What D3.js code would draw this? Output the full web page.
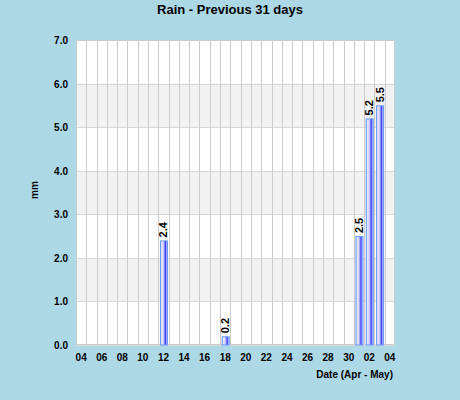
<!DOCTYPE html>
<html><head><meta charset="utf-8">
<script src="https://cdn.jsdelivr.net/npm/d3@7"></script>
<style>
html,body{margin:0;padding:0;background:#add8e6;}
svg{display:block;font-family:"Liberation Sans",Arial,sans-serif;}
</style></head>
<body>
<script>
const days = ["04","05","06","07","08","09","10","11","12","13","14","15","16","17","18","19","20","21","22","23","24","25","26","27","28","29","30","01","02","03","04b"];
const dayLabels = ["04","05","06","07","08","09","10","11","12","13","14","15","16","17","18","19","20","21","22","23","24","25","26","27","28","29","30","01","02","03","04"];
const rain = [0,0,0,0,0,0,0,0,2.4,0,0,0,0,0,0.2,0,0,0,0,0,0,0,0,0,0,0,0,2.5,5.2,5.5,0];
const yTicks = [0,1,2,3,4,5,6,7];
const title = "Rain - Previous 31 days";
const xTitle = "Date (Apr - May)";
const yTitle = "mm";

const W = 460, H = 400;
const m = {left:76, right:65, top:40, bottom:55};
const svg = d3.select("body").append("svg").attr("width",W).attr("height",H);
svg.append("rect").attr("width",W).attr("height",H).attr("fill","#add8e6");

const x = d3.scaleBand().domain(days).range([m.left, W-m.right]).paddingInner(0).paddingOuter(0);
const y = d3.scaleLinear().domain([0,7]).range([H-m.bottom, m.top]);

const defs = svg.append("defs");
const g = defs.append("linearGradient").attr("id","barg").attr("x1","0").attr("x2","1").attr("y1","0").attr("y2","0");
[[0,"#b8c8ff"],[0.2,"#e8eaff"],[0.45,"#c8c8ff"],[0.6,"#7777ff"],[0.72,"#4040ff"],[0.85,"#9aa0ff"],[1,"#d8dcff"]].forEach(([o,c])=>g.append("stop").attr("offset",o).attr("stop-color",c));

// plot background
svg.append("rect").attr("x",m.left).attr("y",m.top).attr("width",W-m.left-m.right).attr("height",H-m.top-m.bottom).attr("fill","#ffffff");
// alternating bands
svg.selectAll(".band").data(yTicks.slice(0,-1).filter(v=>v%2===1)).enter().append("rect")
  .attr("x",m.left).attr("width",W-m.left-m.right)
  .attr("y",d=>y(d+1)).attr("height",d=>y(d)-y(d+1)).attr("fill","#f2f2f2");
// horizontal grid
svg.selectAll(".hg").data(yTicks).enter().append("line")
  .attr("x1",m.left).attr("x2",W-m.right).attr("y1",d=>Math.round(y(d))+0.5).attr("y2",d=>Math.round(y(d))+0.5)
  .attr("stroke","#d8d8d8").attr("stroke-width",1);
// vertical grid
svg.selectAll(".vg").data(days).enter().append("line")
  .attr("x1",d=>Math.round(x(d))+0.5).attr("x2",d=>Math.round(x(d))+0.5)
  .attr("y1",m.top).attr("y2",H-m.bottom).attr("stroke","#cccccc");
svg.append("rect").attr("x",m.left+0.5).attr("y",m.top+0.5).attr("width",W-m.left-m.right-1).attr("height",H-m.top-m.bottom-1)
  .attr("fill","none").attr("stroke","#cccccc");

// bars
const bw = 7;
const bars = days.map((d,i)=>({d,v:rain[i]})).filter(o=>o.v>0);
svg.selectAll(".bar").data(bars).enter().append("rect")
  .attr("x",o=>x(o.d)+x.bandwidth()/2-bw/2+0.5).attr("width",bw)
  .attr("y",o=>y(o.v)+0.5).attr("height",o=>y(0)-y(o.v)-0.5)
  .attr("fill","url(#barg)").attr("stroke","#6699ff").attr("stroke-width",1);
svg.selectAll(".vl").data(bars).enter().append("text")
  .attr("transform",o=>`translate(${x(o.d)+x.bandwidth()/2+4},${y(o.v)-3}) rotate(-90)`)
  .attr("font-size",11).attr("font-weight","bold").attr("fill","#000")
  .text(o=>o.v.toFixed(1));

// y ticks
svg.selectAll(".yt").data(yTicks).enter().append("text")
  .attr("x",68).attr("y",d=>y(d)+4).attr("text-anchor","end")
  .attr("font-size",10).attr("font-weight","bold").attr("fill","#000")
  .text(d=>d.toFixed(1));
// x ticks
svg.selectAll(".xt").data(days.filter((d,i)=>i%2===0)).enter().append("text")
  .attr("x",d=>x(d)+x.bandwidth()/2).attr("y",361).attr("text-anchor","middle")
  .attr("font-size",10).attr("font-weight","bold").attr("fill","#000")
  .text(d=>dayLabels[days.indexOf(d)]);

svg.append("text").attr("x",230).attr("y",14).attr("text-anchor","middle")
  .attr("font-size",13).attr("font-weight","bold").attr("fill","#000").text(title);
svg.append("text").attr("x",393).attr("y",378).attr("text-anchor","end")
  .attr("font-size",10).attr("font-weight","bold").attr("fill","#000").text(xTitle);
svg.append("text").attr("transform",`translate(38,190) rotate(-90)`).attr("text-anchor","middle")
  .attr("font-size",10).attr("font-weight","bold").attr("fill","#000").text(yTitle);
</script>
</body></html>
